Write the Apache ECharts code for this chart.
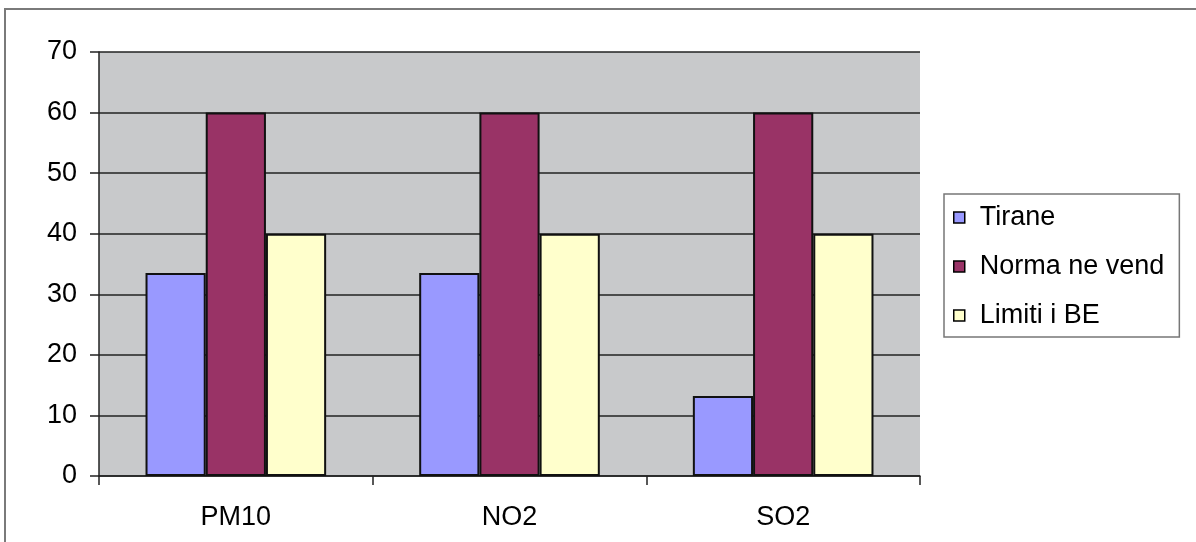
<!DOCTYPE html>
<html>
<head>
<meta charset="utf-8">
<script src="https://cdn.jsdelivr.net/npm/echarts@6/dist/echarts.min.js"></script>
<style>
html,body{margin:0;padding:0;background:#fff;}
#chart{width:1196px;height:542px;}
</style>
</head>
<body>
<div id="chart"></div>
<script>
const categories = ['PM10', 'NO2', 'SO2'];
const seriesNames = ['Tirane', 'Norma ne vend', 'Limiti i BE'];
const tirane = [33.5, 33.5, 13.2];
const normaNeVend = [60, 60, 60];
const limitiBE = [40, 40, 40];
const colors = ['#9999ff', '#993366', '#ffffcc'];

const chart = echarts.init(document.getElementById('chart'));
const font = 'Arial, "Liberation Sans", sans-serif';
const values = [tirane, normaNeVend, limitiBE];

chart.setOption({
  animation: false,
  backgroundColor: '#ffffff',
  graphic: [{
    type: 'rect',
    shape: { x: 5, y: 9, width: 1200, height: 545 },
    style: { fill: 'none', stroke: '#7a7a7a', lineWidth: 2 },
    z: -10
  }],
  grid: {
    left: 99, top: 52, right: 276, bottom: 66,
    show: true, backgroundColor: '#c8c9cb', borderWidth: 0
  },
  legend: {
    orient: 'vertical',
    left: 944, top: 194,
    padding: [10, 15, 8, 9],
    itemGap: 22,
    itemWidth: 11, itemHeight: 11,
    icon: 'rect',
    borderColor: '#777', borderWidth: 1.5,
    backgroundColor: '#fff',
    textStyle: { fontFamily: font, fontSize: 27, color: '#000', lineHeight: 25, padding: [0, 0, 0, 10] },
    itemStyle: { borderColor: '#000', borderWidth: 1.5 },
    data: seriesNames
  },
  xAxis: {
    type: 'category',
    data: categories,
    axisLine: { lineStyle: { color: '#222', width: 1.5 } },
    axisTick: { show: true, length: 9, lineStyle: { color: '#222', width: 1.5 } },
    axisLabel: { fontFamily: font, fontSize: 27, color: '#000', margin: 28 },
    splitLine: { show: false }
  },
  yAxis: {
    type: 'value',
    min: 0, max: 70, interval: 10,
    axisLine: { show: true, lineStyle: { color: '#222', width: 1.5 } },
    axisTick: { show: true, length: 9, lineStyle: { color: '#222', width: 1.5 } },
    axisLabel: { fontFamily: font, fontSize: 27, color: '#000', margin: 22 },
    splitLine: { show: true, lineStyle: { color: '#222', width: 1.5 } }
  },
  series: seriesNames.map((name, i) => ({
    name: name,
    type: 'bar',
    data: values[i],
    barGap: '0%',
    barCategoryGap: '34%',
    itemStyle: { color: colors[i], borderColor: '#111', borderWidth: 2 }
  }))
});
</script>
</body>
</html>
